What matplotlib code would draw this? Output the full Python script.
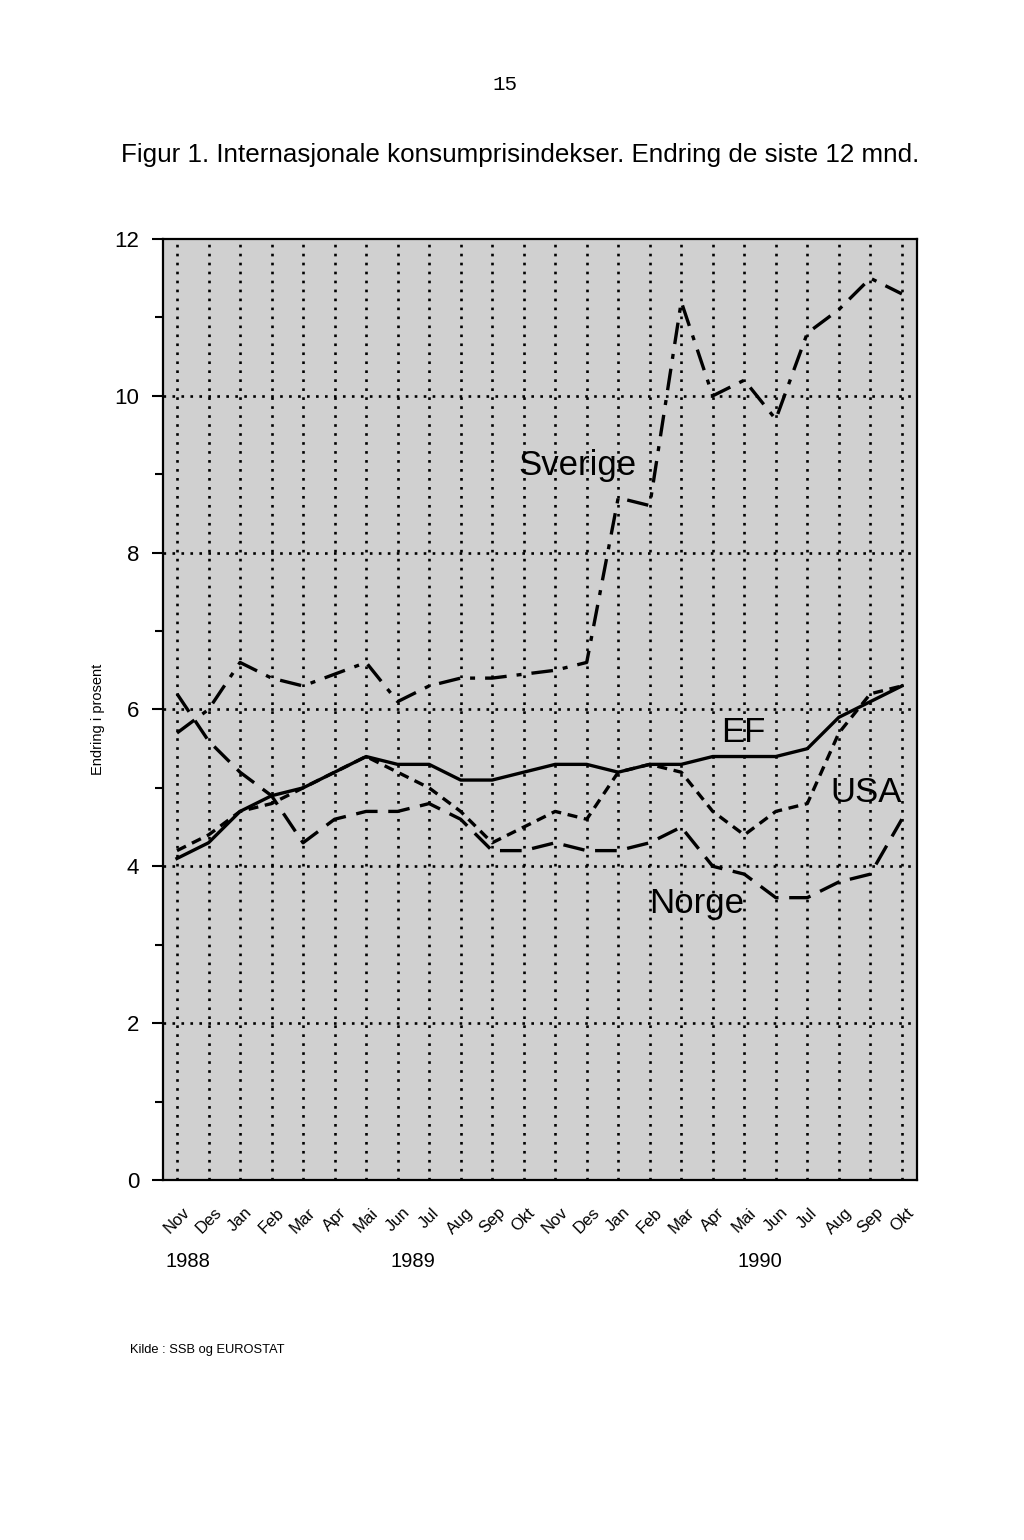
import numpy as np
import matplotlib.pyplot as plt

plt.rcParams['font.family'] = ['Liberation Sans', 'DejaVu Sans']

months = ['Nov', 'Des', 'Jan', 'Feb', 'Mar', 'Apr', 'Mai', 'Jun', 'Jul', 'Aug', 'Sep', 'Okt',
          'Nov', 'Des', 'Jan', 'Feb', 'Mar', 'Apr', 'Mai', 'Jun', 'Jul', 'Aug', 'Sep', 'Okt']
years = ['1988', '1989', '1990']

sverige = [5.7, 6.0, 6.6, 6.4, 6.3, 6.45, 6.6, 6.1, 6.3, 6.4, 6.4, 6.45,
           6.5, 6.6, 8.7, 8.6, 11.2, 10.0, 10.2, 9.7, 10.8, 11.1, 11.5, 11.3]
ef = [4.1, 4.3, 4.7, 4.9, 5.0, 5.2, 5.4, 5.3, 5.3, 5.1, 5.1, 5.2,
      5.3, 5.3, 5.2, 5.3, 5.3, 5.4, 5.4, 5.4, 5.5, 5.9, 6.1, 6.3]
usa = [4.2, 4.4, 4.7, 4.8, 5.0, 5.2, 5.4, 5.2, 5.0, 4.7, 4.3, 4.5,
       4.7, 4.6, 5.2, 5.3, 5.2, 4.7, 4.4, 4.7, 4.8, 5.7, 6.2, 6.3]
norge = [6.2, 5.6, 5.2, 4.9, 4.3, 4.6, 4.7, 4.7, 4.8, 4.6, 4.2, 4.2,
         4.3, 4.2, 4.2, 4.3, 4.5, 4.0, 3.9, 3.6, 3.6, 3.8, 3.9, 4.6]

x = np.arange(len(months))

fig = plt.figure(figsize=(10.24, 15.4), dpi=100)
ax = fig.add_axes([0.159, 0.2338, 0.7365, 0.611])
ax.set_facecolor('#d0d0d0')

lw = 2.4
ax.plot(x, sverige, color='black', lw=lw, linestyle=(0, (6.5, 3, 1.5, 3)), zorder=3)
ax.plot(x, ef, color='black', lw=lw, linestyle='-', zorder=3)
ax.plot(x, usa, color='black', lw=lw, linestyle=(0, (3, 2)), zorder=3)
ax.plot(x, norge, color='black', lw=lw, linestyle=(0, (6.5, 3.2)), zorder=3)

# dotted grid sits above the series labels
for xi in x:
    ax.axvline(xi, color='black', lw=1.9, linestyle=(0, (1, 2.4)), zorder=2)
for yi in [2, 4, 6, 8, 10]:
    ax.axhline(yi, color='black', lw=1.9, linestyle=(0, (1, 2.4)), zorder=2)

ax.text(12.7, 8.99, 'Sverige', fontsize=25, ha='center', va='baseline', zorder=1)
ax.text(17.96, 5.59, 'EF', fontsize=25, ha='center', va='baseline', zorder=1)
ax.text(21.86, 4.82, 'USA', fontsize=25, ha='center', va='baseline', zorder=1)
ax.text(16.5, 3.40, 'Norge', fontsize=25, ha='center', va='baseline', zorder=1)

ax.set_xlim(-0.45, 23.48)
ax.set_ylim(0, 12)
ax.set_yticks([0, 2, 4, 6, 8, 10, 12])
ax.set_yticks(np.arange(1, 12, 2), minor=True)
ax.tick_params(axis='y', which='major', length=8, width=1.5, labelsize=16, pad=9)
ax.tick_params(axis='y', which='minor', length=6, width=1.5)
ax.set_xticks(x)
ax.set_xticklabels(months, rotation=45, ha='center', va='top', fontsize=12)
ax.tick_params(axis='x', length=0, pad=18)
for s in ax.spines.values():
    s.set_linewidth(1.6)

ax.set_ylabel('Endring i prosent', fontsize=10.5)
ax.yaxis.set_label_coords(-0.077, 0.49)

for xpos, yr in zip([0.35, 7.5, 18.5], years):
    ax.text(xpos, -0.087, yr, fontsize=14.5, ha='center', va='center',
            transform=ax.get_xaxis_transform())

fig.text(0.508, 0.8995, 'Figur 1. Internasjonale konsumprisindekser. Endring de siste 12 mnd.',
         fontsize=18.7, ha='center', va='center')
fig.text(0.493, 0.945, '15', fontsize=15, ha='center', va='center', family='Liberation Mono')
fig.text(0.127, 0.1234, 'Kilde : SSB og EUROSTAT', fontsize=9.3, ha='left', va='center')

fig.savefig('out.png', dpi=100)
